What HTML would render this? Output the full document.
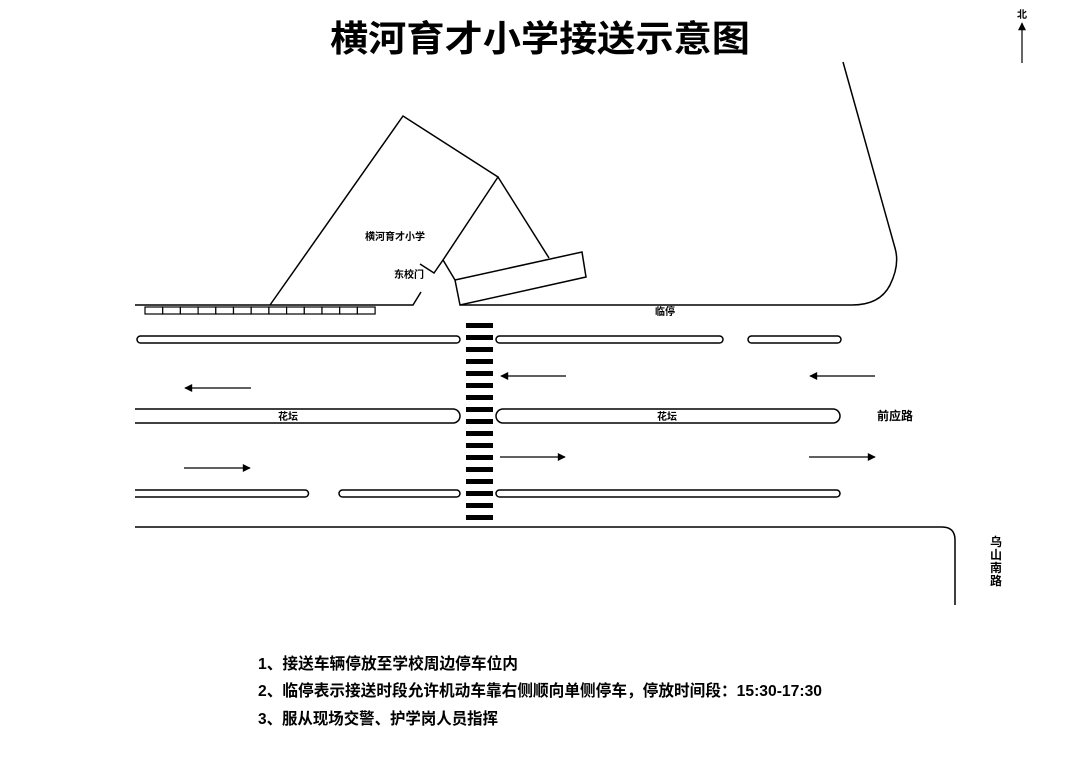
<!DOCTYPE html>
<html><head><meta charset="utf-8"><style>
html,body{margin:0;padding:0;background:#fff;}
svg{display:block;}
text{font-family:"Liberation Sans","Noto Sans CJK SC",sans-serif;font-weight:bold;fill:#000;}
</style></head><body>
<svg width="1080" height="763" viewBox="0 0 1080 763" xmlns="http://www.w3.org/2000/svg">
<defs>
<marker id="ah" viewBox="0 0 10 10" refX="9" refY="5" markerWidth="15" markerHeight="8" markerUnits="userSpaceOnUse" orient="auto"><path d="M0,0 L10,5 L0,10 z" fill="#000"/></marker>
</defs>
<text x="540" y="51" font-size="36" text-anchor="middle" textLength="420" lengthAdjust="spacingAndGlyphs">横河育才小学接送示意图</text>
<text x="1022" y="18" font-size="10" text-anchor="middle">北</text>
<line x1="1022" y1="63" x2="1022" y2="23" stroke="#000" stroke-width="1.2" marker-end="url(#ah)"/>
<g fill="none" stroke="#000" stroke-width="1.5">
<polyline points="270,305 403,116 498,177 443,260 434,273 420,264"/>
<polyline points="421,292 413,305 135,305"/>
<line x1="498" y1="177" x2="549" y2="258"/>
<line x1="443" y1="260" x2="455" y2="280"/>
<polygon points="455,280 582,252 586,277 460,305"/>
<path d="M460,305 L852,305 Q880,305 890,285 Q900,265 895,248 L843,62"/>
<path d="M135,527 L942,527 Q955,527 955,540 L955,605"/>
<rect x="137" y="336" width="323" height="7" rx="3.5"/>
<rect x="496" y="336" width="227" height="7" rx="3.5"/>
<rect x="748" y="336" width="93" height="7" rx="3.5"/>
<path d="M135,409 L453,409 A7,7 0 0 1 453,423 L135,423"/>
<rect x="496" y="409" width="344" height="14" rx="7"/>
<path d="M135,490 L305,490 A3.5,3.5 0 0 1 305,497 L135,497"/>
<rect x="339" y="490" width="121" height="7" rx="3.5"/>
<rect x="496" y="490" width="344" height="7" rx="3.5"/>
</g>
<g fill="#fff" stroke="#000" stroke-width="1.2">
<rect x="145" y="307" width="17.7" height="7"/><rect x="162.7" y="307" width="17.7" height="7"/><rect x="180.4" y="307" width="17.7" height="7"/><rect x="198.1" y="307" width="17.7" height="7"/><rect x="215.8" y="307" width="17.7" height="7"/><rect x="233.5" y="307" width="17.7" height="7"/><rect x="251.2" y="307" width="17.7" height="7"/><rect x="268.9" y="307" width="17.7" height="7"/><rect x="286.6" y="307" width="17.7" height="7"/><rect x="304.3" y="307" width="17.7" height="7"/><rect x="322" y="307" width="17.7" height="7"/><rect x="339.7" y="307" width="17.7" height="7"/><rect x="357.4" y="307" width="17.7" height="7"/>
</g>
<g fill="#000">
<rect x="466" y="323" width="27" height="5"/><rect x="466" y="335" width="27" height="5"/><rect x="466" y="347" width="27" height="5"/><rect x="466" y="359" width="27" height="5"/><rect x="466" y="371" width="27" height="5"/><rect x="466" y="383" width="27" height="5"/><rect x="466" y="395" width="27" height="5"/><rect x="466" y="407" width="27" height="5"/><rect x="466" y="419" width="27" height="5"/><rect x="466" y="431" width="27" height="5"/><rect x="466" y="443" width="27" height="5"/><rect x="466" y="455" width="27" height="5"/><rect x="466" y="467" width="27" height="5"/><rect x="466" y="479" width="27" height="5"/><rect x="466" y="491" width="27" height="5"/><rect x="466" y="503" width="27" height="5"/><rect x="466" y="515" width="27" height="5"/>
</g>
<g stroke="#000" stroke-width="1.3" marker-end="url(#ah)">
<line x1="251" y1="388" x2="185" y2="388"/>
<line x1="566" y1="376" x2="501" y2="376"/>
<line x1="875" y1="376" x2="810" y2="376"/>
<line x1="184" y1="468" x2="250" y2="468"/>
<line x1="500" y1="457" x2="565" y2="457"/>
<line x1="809" y1="457" x2="875" y2="457"/>
</g>
<text x="395" y="240" font-size="10" text-anchor="middle">横河育才小学</text>
<text x="409" y="278" font-size="10" text-anchor="middle">东校门</text>
<text x="665" y="315" font-size="10" text-anchor="middle">临停</text>
<text x="288" y="420" font-size="10" text-anchor="middle">花坛</text>
<text x="667" y="420" font-size="10" text-anchor="middle">花坛</text>
<text x="895" y="420" font-size="12" text-anchor="middle">前应路</text>
<g font-size="12" text-anchor="middle">
<text x="996" y="546">乌</text>
<text x="996" y="559">山</text>
<text x="996" y="572">南</text>
<text x="996" y="585">路</text>
</g>
<text x="258" y="669" font-size="16" textLength="260" lengthAdjust="spacingAndGlyphs">1、接送车辆停放至学校周边停车位内</text>
<text x="258" y="696" font-size="16" textLength="564" lengthAdjust="spacingAndGlyphs">2、临停表示接送时段允许机动车靠右侧顺向单侧停车，停放时间段：15:30-17:30</text>
<text x="258" y="724" font-size="16" textLength="240" lengthAdjust="spacingAndGlyphs">3、服从现场交警、护学岗人员指挥</text>
</svg>
</body></html>
